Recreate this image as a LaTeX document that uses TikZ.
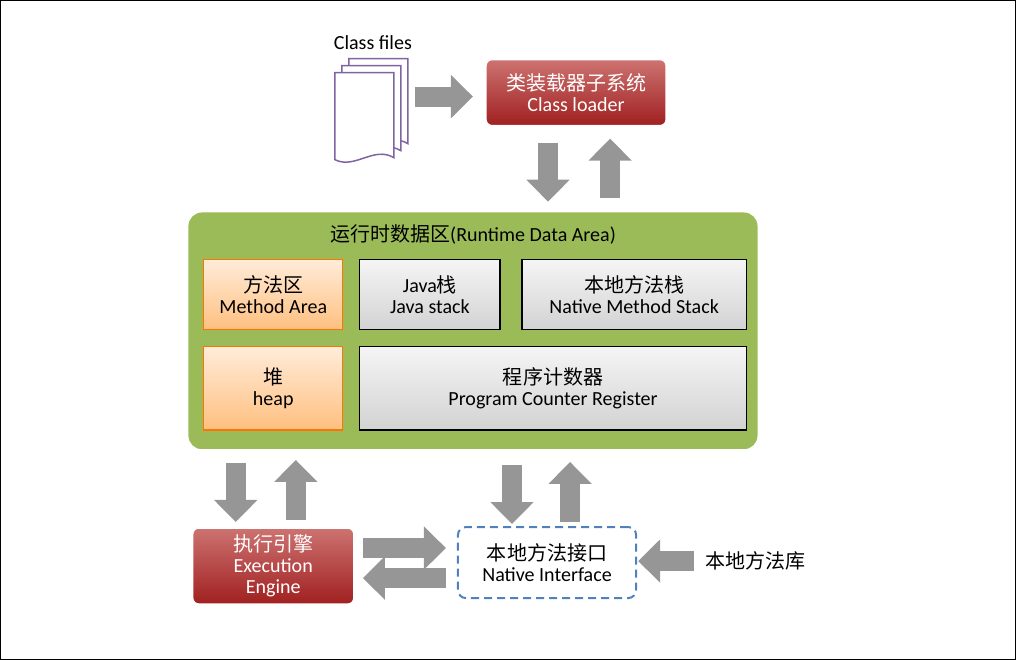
\documentclass[tikz,border=0pt]{standalone}
\usepackage{fontspec}
\setmainfont{Carlito}
\newfontfamily\cjk{Noto Sans CJK SC}
\usetikzlibrary{arrows.meta}
\definecolor{gr}{HTML}{9BBB59}
\definecolor{rd}{HTML}{C0504D}
\definecolor{rdd}{HTML}{A02020}
\definecolor{ar}{HTML}{969696}
\definecolor{pu}{HTML}{8064A2}
\definecolor{bl}{HTML}{4F81BD}
\begin{document}
\begin{tikzpicture}[x=1pt,y=-1pt,
 blk/.style={line width=20pt,draw=ar,-{Triangle[width=42pt,length=22pt]}},
 red/.style={rounded corners=6pt,top color=rd!80,bottom color=rdd,draw=white,line width=1.5pt,text=white,align=center,font=\fontsize{20}{21}\selectfont},
 org/.style={draw=orange!90!red,line width=1.2pt,top color=orange!15,bottom color=orange!50,align=center,font=\fontsize{20}{21}\selectfont},
 gry/.style={draw=black,line width=1.2pt,top color=gray!8,bottom color=gray!35,align=center,font=\fontsize{20}{21}\selectfont}]
\draw[line width=1pt] (1,1) rectangle (1015,659);
\node[font=\fontsize{20}{21}\selectfont] (cf) at (373,43) {Class files};
\begin{scope}[draw=pu,line width=1.5pt,fill=white]
\foreach \d in {14,7,0}{
\filldraw ([shift={(\d,-\d)}]335,73) -- ++(59,0) -- ++(0,85) .. controls ++(-20,-12) and ++(20,10) .. ++(-59,2) -- cycle;}
\end{scope}
\coordinate (cfa) at (415,97); \coordinate (cfb) at (473,97);
\draw[blk] (cfa) -- (cfb);
\node[red,minimum width=180pt,minimum height=66pt] (cl) at (576,93) {{\cjk 类装载器子系统}\\Class loader};
\node[rounded corners=14pt,fill=gr,draw=white,line width=1.5pt,minimum width=570pt,minimum height=238pt] (rda) at (473,331) {};
\node[font=\fontsize{20}{21}\selectfont] at (473,235) {{\cjk 运行时数据区}(Runtime Data Area)};
\node[org,minimum width=139pt,minimum height=70pt] (ma) at (273.5,295) {{\cjk 方法区}\\Method Area};
\node[org,minimum width=139pt,minimum height=83pt] (hp) at (273.5,388.5) {{\cjk 堆}\\heap};
\node[gry,minimum width=140pt,minimum height=70pt] (js) at (430,295) {Java{\cjk 栈}\\Java stack};
\node[gry,minimum width=224pt,minimum height=70pt] (ns) at (634,295) {{\cjk 本地方法栈}\\Native Method Stack};
\node[gry,minimum width=386pt,minimum height=83pt] (pc) at (553,388.5) {{\cjk 程序计数器}\\Program Counter Register};
\node[red,minimum width=161pt,minimum height=76pt] (ee) at (273.5,566) {{\cjk 执行引擎}\\Execution\\Engine};
\node[draw=bl,dashed,line width=2pt,dash pattern=on 8pt off 5pt,rounded corners=8pt,minimum width=178pt,minimum height=71pt,align=center,font=\fontsize{20}{21}\selectfont] (ni) at (547,562.5) {{\cjk 本地方法接口}\\Native Interface};
\node[font=\fontsize{20}{21}\selectfont\cjk] (lib) at (755,561) {本地方法库};
\draw[blk] (548,143) -- (548,202);
\draw[blk] (610,198) -- (610,139);
\draw[blk] (236,463) -- (236,522);
\draw[blk] (296,520) -- (296,460);
\draw[blk] (512,465) -- (512,524);
\draw[blk] (570,522) -- (570,462);
\draw[blk] (363,548) -- (446,548);
\draw[blk] (446,578) -- (363,578);
\draw[blk] (694,561) -- (638,561);
\end{tikzpicture}
\end{document}
